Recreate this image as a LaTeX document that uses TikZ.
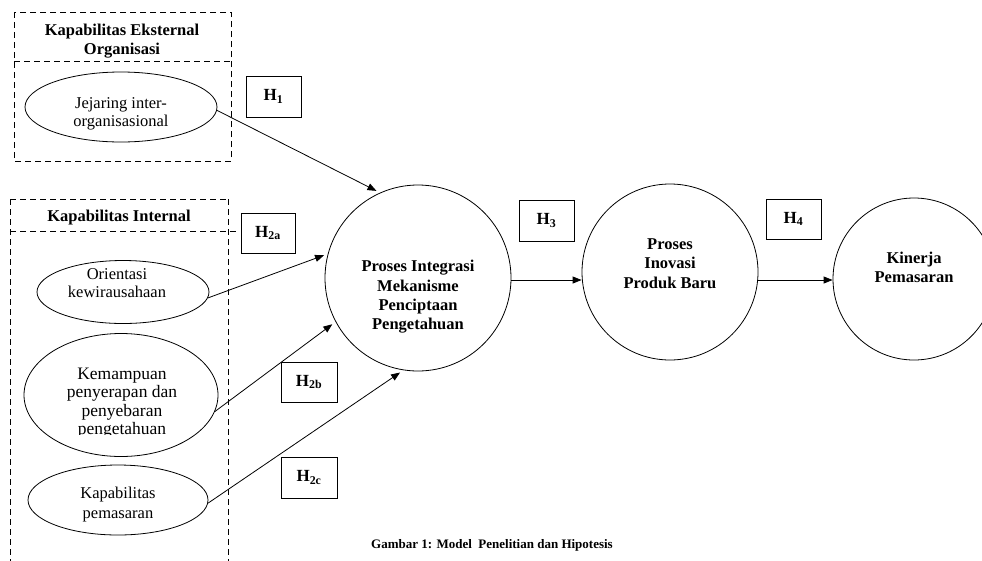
\documentclass[tikz,border=0pt]{standalone}
\usepackage{fontspec}
\setmainfont{Liberation Serif}
\usetikzlibrary{shapes.geometric,arrows.meta}
\tikzset{
  groupbox/.style={draw, line width=0.8pt, dash pattern=on 6pt off 4pt},
  construct/.style={draw, line width=0.8pt, ellipse, inner sep=0pt},
  constructtext/.style={align=center, inner sep=0pt, font=\fontsize{16.5}{18}\selectfont},
  process/.style={draw, line width=0.8pt, circle, inner sep=0pt},
  processtext/.style={align=center, inner sep=0pt, font=\fontsize{16.5}{19.3}\selectfont\bfseries},
  hyp/.style={draw, line width=0.8pt, minimum width=55pt, minimum height=41pt, inner sep=0pt,
    font=\fontsize{17}{20}\selectfont\bfseries},
  grouptitle/.style={align=center, inner sep=0pt, font=\fontsize{16.5}{19}\selectfont\bfseries},
  link/.style={line width=0.8pt, -{Triangle[length=9pt,width=7pt]}, shorten >=4pt},
}
\begin{document}
\begin{tikzpicture}[x=1pt,y=-1pt]
\useasboundingbox (0,0) rectangle (982,560);
\clip (0,0) rectangle (982,560);

% External capability group
\draw[groupbox] (14,12) rectangle (231,161);
\draw[groupbox] (14,61) -- (231,61);
\node[grouptitle] (gext) at (122,41) {Kapabilitas Eksternal\\Organisasi};
\node[construct, minimum width=192pt, minimum height=70pt] (jej) at (121,107) {};
\node[constructtext] (jejt) at (121,114) {Jejaring inter-\\organisasional};

% Internal capability group
\draw[groupbox] (10,199) -- (10,570);
\draw[groupbox] (228,199) -- (228,570);
\draw[groupbox] (10,199) -- (228,199);
\draw[groupbox] (10,231) -- (236,231);
\node[grouptitle] (gint) at (119,218) {Kapabilitas Internal};
\node[construct, minimum width=172pt, minimum height=63pt] (ori) at (123,292) {};
\node[constructtext] (orit) at (117,283) {Orientasi\\kewirausahaan};
\node[construct, minimum width=194pt, minimum height=123pt] (kem) at (121,395) {};
\begin{scope}
  % the last line of this label overflows its frame and is cut off
  \clip (0,0) rectangle (982,434.5);
  \node[constructtext, font=\fontsize{17.5}{18.5}\selectfont] (kemt) at (122,403)
    {Kemampuan\\penyerapan dan\\penyebaran\\pengetahuan};
\end{scope}
\node[construct, minimum width=180pt, minimum height=70pt] (kap) at (118,500) {};
\node[constructtext, font=\fontsize{16.5}{20}\selectfont] (kapt) at (118,505) {Kapabilitas\\pemasaran};

% Process constructs
\node[process, minimum size=186pt] (pim) at (418,278) {};
\node[processtext] (pimt) at (418,297) {Proses Integrasi\\Mekanisme\\Penciptaan\\Pengetahuan};
\node[process, minimum size=176pt] (pip) at (670,272) {};
\node[processtext] (pipt) at (670,263.5) {Proses\\Inovasi\\Produk Baru};
\node[process, minimum size=162pt] (kin) at (914,279) {};
\node[processtext] (kint) at (914,267.5) {Kinerja\\Pemasaran};

% Hypotheses
\node[hyp] (h1) at (273.5,96.5) {H\textsubscript{1}};
\node[hyp, minimum width=54pt, minimum height=40pt] (h2a) at (268,233) {H\textsubscript{2a}};
\node[hyp, minimum width=56pt, minimum height=40pt] (h2b) at (309,382) {H\textsubscript{2b}};
\node[hyp, minimum width=56pt, minimum height=41pt] (h2c) at (309,477.5) {H\textsubscript{2c}};
\node[hyp] (h3) at (546.5,220.5) {H\textsubscript{3}};
\node[hyp, minimum height=40pt] (h4) at (793.5,219) {H\textsubscript{4}};

% Paths
\draw[link] (jej.-2) -- (pim.114);
\draw[link] (ori.-4) -- (pim.165);
\draw[link] (kem.-10) -- (pim.208);
\draw[link] (kap.-2) -- (pim.261);
\draw[link, shorten >=0pt] (pim.east |- 0,280) -- (pip.west |- 0,280);
\draw[link, shorten >=0pt] (pip.east |- 0,280) -- (kin.west |- 0,280);

% Caption
\node[inner sep=0pt, font=\fontsize{13}{15}\selectfont\bfseries] (cap) at (492,545) {Gambar 1: Model\ \ Penelitian dan Hipotesis};
\end{tikzpicture}
\end{document}
